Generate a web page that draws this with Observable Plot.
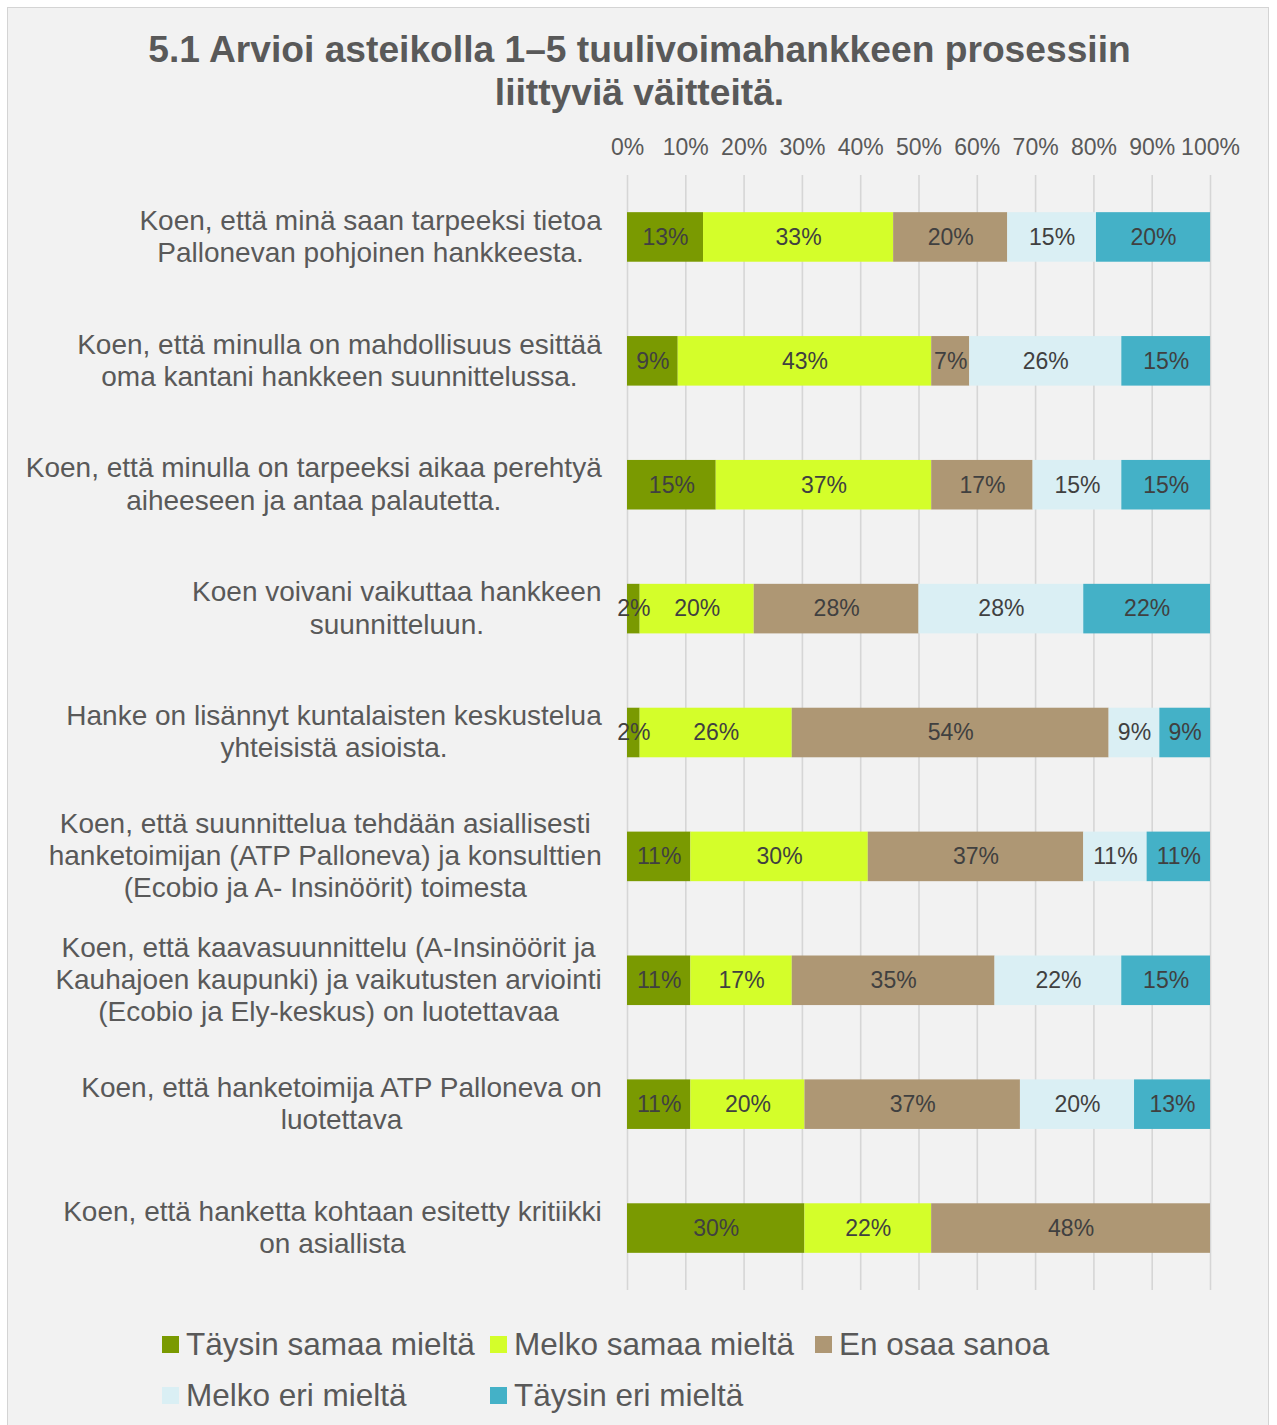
<!DOCTYPE html>
<html>
<head>
<meta charset="utf-8">
<script src="https://cdn.jsdelivr.net/npm/d3@7"></script>
<script src="https://cdn.jsdelivr.net/npm/@observablehq/plot@0.6"></script>
<style>
  html, body { margin: 0; padding: 0; background: #ffffff; }
  #page { position: relative; width: 1277px; height: 1425px; overflow: hidden; font-family: "Liberation Sans", Arial, sans-serif; }
  #frame { position: absolute; left: 7px; top: 7px; width: 1262px; height: 1440px; background: #f2f2f2; border: 1.5px solid #d4d4d4; box-sizing: border-box; }
  #title { position: absolute; left: 0; top: 28px; width: 1279px; text-align: center; font-weight: bold; font-size: 37.2px; line-height: 43px; color: #595959; }
  #chart { position: absolute; left: 0; top: 120px; }
  .leg { position: absolute; display: flex; align-items: center; font-size: 31.5px; color: #595959; white-space: nowrap; }
  .leg span.sw { display: inline-block; width: 17px; height: 17px; margin-right: 7px; }
</style>
</head>
<body>
<div id="page">
  <div id="frame"></div>
  <div id="title">5.1 Arvioi asteikolla 1–5 tuulivoimahankkeen prosessiin<br>liittyviä väitteitä.</div>
  <div id="chart"></div>
  <div id="legend"></div>
</div>
<script>
// ---- data ----
const questions = [
  "Koen, että minä saan tarpeeksi tietoa\nPallonevan pohjoinen hankkeesta.",
  "Koen, että minulla on mahdollisuus esittää\noma kantani hankkeen suunnittelussa.",
  "Koen, että minulla on tarpeeksi aikaa perehtyä\naiheeseen ja antaa palautetta.",
  "Koen voivani vaikuttaa hankkeen\nsuunnitteluun.",
  "Hanke on lisännyt kuntalaisten keskustelua\nyhteisistä asioista.",
  "Koen, että suunnittelua tehdään asiallisesti\nhanketoimijan (ATP Palloneva) ja konsulttien\n(Ecobio ja A- Insinöörit) toimesta",
  "Koen, että kaavasuunnittelu (A-Insinöörit ja\nKauhajoen kaupunki) ja vaikutusten arviointi\n(Ecobio ja Ely-keskus) on luotettavaa",
  "Koen, että hanketoimija ATP Palloneva on\nluotettava",
  "Koen, että hanketta kohtaan esitetty kritiikki\non asiallista"
];
const categories = ["Täysin samaa mieltä", "Melko samaa mieltä", "En osaa sanoa", "Melko eri mieltä", "Täysin eri mieltä"];
const colors = ["#7a9a01", "#d4fe2a", "#ae9774", "#daeff4", "#44b1c7"];

const taysinSamaa = [13.04, 8.70, 15.22, 2.17, 2.17, 10.87, 10.87, 10.87, 30.43];
const melkoSamaa  = [32.61, 43.48, 36.96, 19.57, 26.09, 30.43, 17.39, 19.57, 21.74];
const enOsaa      = [19.57, 6.52, 17.39, 28.26, 54.35, 36.96, 34.78, 36.96, 47.83];
const melkoEri    = [15.22, 26.09, 15.22, 28.26, 8.70, 10.87, 21.74, 19.57, 0];
const taysinEri   = [19.57, 15.22, 15.22, 21.74, 8.70, 10.87, 15.22, 13.04, 0];

const xTicks = [0, 10, 20, 30, 40, 50, 60, 70, 80, 90, 100];

// ---- build table ----
const series = [taysinSamaa, melkoSamaa, enOsaa, melkoEri, taysinEri];
const data = [];
questions.forEach((q, i) => {
  categories.forEach((c, j) => {
    data.push({q, cat: c, value: series[j][i]});
  });
});
const labelled = data.filter(d => d.value > 0);

const font = '"Liberation Sans", Arial, sans-serif';

const chart = Plot.plot({
  width: 1277,
  height: 1179,
  marginLeft: 627,
  marginRight: 67,
  marginTop: 55,
  marginBottom: 9,
  style: {background: "transparent", fontFamily: font, fontSize: "23px", color: "#595959"},
  x: {domain: [0, 100], axis: null},
  y: {domain: questions, axis: null, paddingInner: 0.6, paddingOuter: 0.3, round: false},
  color: {domain: categories, range: colors},
  marks: [
    Plot.gridX(xTicks, {stroke: "#d6d6d6", strokeOpacity: 1, strokeWidth: 1.6}),
    Plot.axisX(xTicks, {anchor: "top", label: null, tickSize: 0, tickPadding: 21, tickFormat: d => d + "%", fontSize: 23, fill: "#595959"}),
    Plot.barX(data, Plot.stackX({x: "value", y: "q", fill: "cat", order: categories})),
    Plot.text(labelled, Plot.stackX({x: "value", y: "q", z: "cat", order: categories, text: d => Math.round(d.value) + "%", fill: "#404040", fontSize: 23})),
    Plot.text(questions, {y: d => d, text: d => d, frameAnchor: "left", dx: -26, dy: -2, textAnchor: "end", lineAnchor: "middle", lineHeight: 1.15, fontSize: 28, fill: "#595959"})
  ]
});
document.getElementById("chart").appendChild(chart);

// center the lines of each multi-line label inside its right-aligned block
const textGroups = chart.querySelectorAll('g[aria-label="text"]');
const labelGroup = textGroups[textGroups.length - 1];
labelGroup.querySelectorAll("text").forEach(t => {
  const bb = t.getBBox();
  const right = bb.x + bb.width;
  const center = right - bb.width / 2;
  t.setAttribute("text-anchor", "middle");
  t.style.textAnchor = "middle";
  const tspans = t.querySelectorAll("tspan");
  if (tspans.length) {
    tspans.forEach(s => s.setAttribute("x", center));
  } else {
    t.setAttribute("x", center);
  }
});

// ---- legend ----
const legend = document.getElementById("legend");
const legPos = [[162, 1344], [490, 1344], [815, 1344], [162, 1395], [490, 1395]];
categories.forEach((c, i) => {
  const d = document.createElement("div");
  d.className = "leg";
  d.style.left = legPos[i][0] + "px";
  d.style.top = (legPos[i][1] - 20) + "px";
  d.style.height = "40px";
  d.innerHTML = `<span class="sw" style="background:${colors[i]}"></span>${c}`;
  legend.appendChild(d);
});
</script>
</body>
</html>
